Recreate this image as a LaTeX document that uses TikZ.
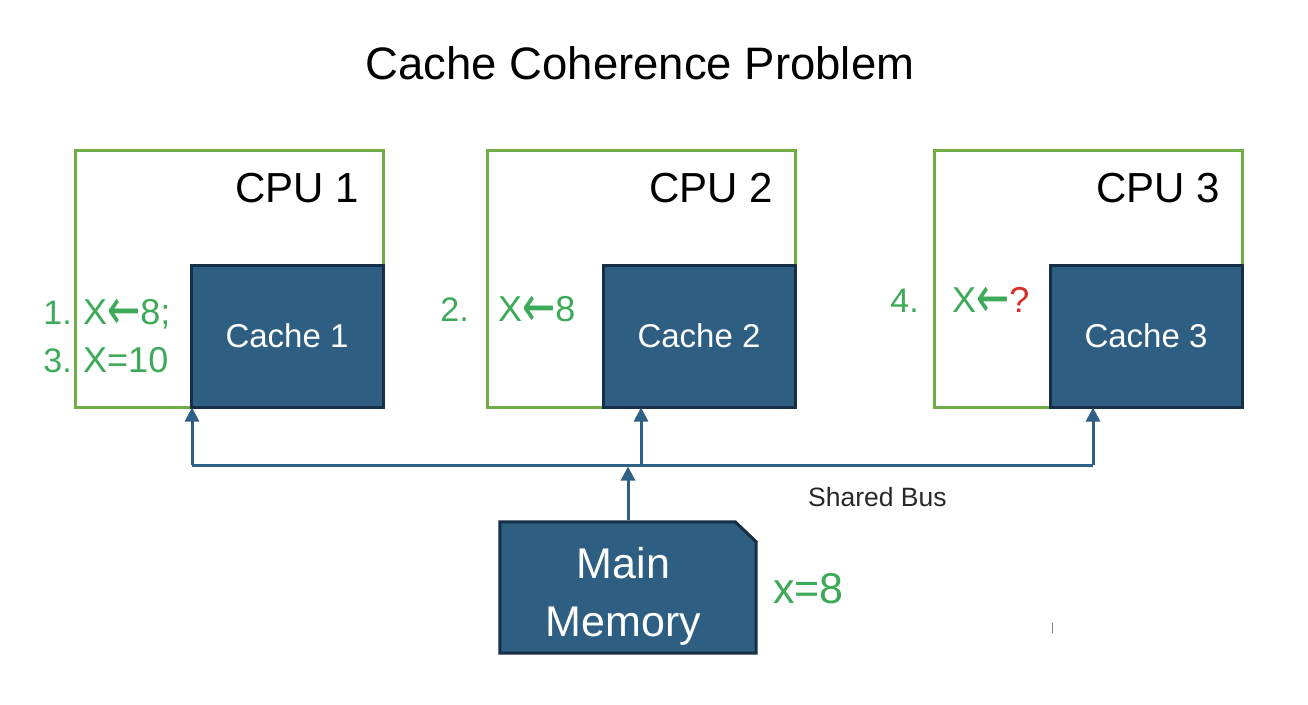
\documentclass[tikz,border=0pt]{standalone}
\usepackage{fontspec}
\usepackage{graphicx}
\setmainfont{Liberation Sans}
\newfontfamily\arrowfont{DejaVu Sans}
\usetikzlibrary{arrows.meta}
\definecolor{cpugreen}{RGB}{112,173,71}
\definecolor{txtgreen}{RGB}{60,170,88}
\definecolor{cachefill}{RGB}{46,94,130}
\definecolor{cacheedge}{RGB}{22,46,70}
\definecolor{busblue}{RGB}{47,96,134}
\definecolor{qred}{RGB}{214,48,40}
\definecolor{labgray}{RGB}{40,40,40}
\newcommand{\larr}{\raisebox{-5pt}{\scalebox{1.1}[1.6]{\arrowfont ←}}}
\begin{document}
\begin{tikzpicture}[x=1pt,y=-1pt,
  cpubox/.style={draw=cpugreen, line width=3pt, minimum width=308pt, minimum height=257pt, inner sep=0pt},
  cachebox/.style={draw=cacheedge, fill=cachefill, line width=3pt, minimum width=192pt, minimum height=142pt, inner sep=0pt, text=white, font=\fontsize{33}{36}\selectfont},
  cpulabel/.style={anchor=base east, inner sep=0pt, font=\fontsize{42}{46}\selectfont},
  numlbl/.style={anchor=base east, inner sep=0pt, text=txtgreen, font=\fontsize{34}{38}\selectfont},
  oplbl/.style={anchor=base west, inner sep=0pt, text=txtgreen, font=\fontsize{36}{40}\selectfont},
  bus/.style={draw=busblue, line width=3pt},
  busarrow/.style={draw=busblue, line width=3pt, -{Triangle[width=14pt,length=14pt]}},
  memshape/.style={draw=cacheedge, fill=cachefill, line width=3pt, line join=miter}
]
\useasboundingbox (0,0) rectangle (1308,704);

% title
\node[anchor=base, inner sep=0pt, font=\fontsize{45.5}{50}\selectfont] (title) at (640,79) {Cache Coherence Problem};

% CPU boxes
\node[cpubox] (cpu1) at (229,278.5) {};
\node[cpubox] (cpu2) at (641,278.5) {};
\node[cpubox] (cpu3) at (1088,278.5) {};

\node[cpulabel] (cpu1l) at ([xshift=-25pt,yshift=-54pt]cpu1.north east) {CPU 1};
\node[cpulabel] (cpu2l) at ([xshift=-23pt,yshift=-54pt]cpu2.north east) {CPU 2};
\node[cpulabel] (cpu3l) at ([xshift=-23pt,yshift=-54pt]cpu3.north east) {CPU 3};

% caches
\node[cachebox] (c1) at (287,336) {Cache 1};
\node[cachebox] (c2) at (699,336) {Cache 2};
\node[cachebox] (c3) at (1146,336) {Cache 3};

% green annotations
\node[numlbl] (n1) at (72,324) {1.};
\node[oplbl] (o1) at (83,324) {X\larr8;};
\node[numlbl] (n3) at (72,372) {3.};
\node[oplbl] (o3) at (83,372) {X=10};
\node[numlbl] (n2) at (469,321) {2.};
\node[oplbl] (o2) at (498,321) {X\larr8};
\node[numlbl] (n4) at (919,312) {4.};
\node[oplbl] (o4) at (952,312) {X\larr\textcolor{qred}{?}};

% bus
\coordinate (b1) at (192,465);
\coordinate (b2) at (641,465);
\coordinate (b3) at (1093,465);
\draw[bus] (b1) -- (b3);
\draw[busarrow, shorten >=-1pt] (b1) -- (b1 |- c1.south);
\draw[busarrow, shorten >=-1pt] (b2) -- (b2 |- c2.south);
\draw[busarrow, shorten >=-1pt] (b3) -- (b3 |- c3.south);
\node[anchor=base west, inner sep=0pt, text=labgray, font=\fontsize{26.5}{30}\selectfont] (buslbl) at (808,506) {Shared Bus};

% main memory
\path node[minimum width=256pt, minimum height=131pt, inner sep=0pt] (mem) at (628,587.5) {};
\path[memshape] (mem.south west) -- (mem.north west) -- ([xshift=-21pt]mem.north east)
  -- ([yshift=-20pt]mem.north east) -- (mem.south east) -- cycle;
\node[align=center, inner sep=0pt, text=white, font=\fontsize{43}{58}\selectfont] (memlbl) at (623.5,596) {Main\\Memory};
\draw[busarrow, shorten <=1.5pt, shorten >=1.5pt] (mem.north) -- (mem.north |- b1);
\node[anchor=base west, inner sep=0pt, text=txtgreen, font=\fontsize{43}{46}\selectfont] (memval) at (773,603) {x=8};

% stray tick
\draw[gray, line width=1pt] (1052,623) -- (1052,633);
\end{tikzpicture}
\end{document}
